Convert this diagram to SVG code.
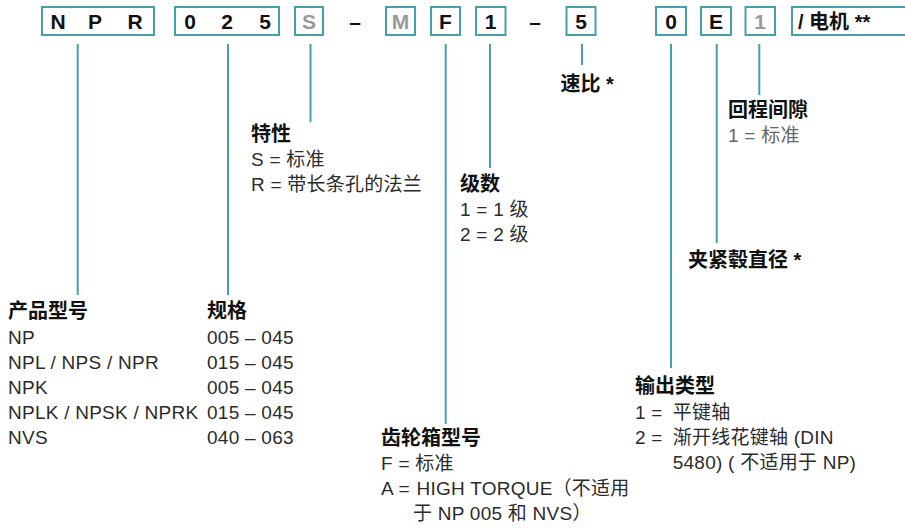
<svg xmlns="http://www.w3.org/2000/svg" width="905" height="528" viewBox="0 0 905 528">
<style>
text{font-family:"Liberation Sans","Noto Sans CJK SC",sans-serif;}
.box{fill:#fff;stroke:#45a0ab;stroke-width:2;}
.bt{font-size:21px;font-weight:bold;fill:#111;text-anchor:middle;}
.gr{fill:#999;}
.h{font-size:20px;font-weight:bold;fill:#111;}
.b{font-size:19px;fill:#2b2b2b;letter-spacing:0.25px;}
.g{fill:#666;}
.ln{stroke:#45a0ab;stroke-width:2;fill:none;}
</style>
<rect width="905" height="528" fill="#fff"/>
<g id="connectors">
<line class="ln" x1="77.7" y1="44" x2="77.7" y2="295"/>
<line class="ln" x1="228" y1="44" x2="228" y2="295"/>
<line class="ln" x1="310.5" y1="44" x2="310.5" y2="122"/>
<line class="ln" x1="445.7" y1="44" x2="445.7" y2="424"/>
<line class="ln" x1="490" y1="44" x2="490" y2="168"/>
<line class="ln" x1="582" y1="44" x2="582" y2="65"/>
<line class="ln" x1="671" y1="44" x2="671" y2="368"/>
<line class="ln" x1="716.7" y1="44" x2="716.7" y2="243"/>
<line class="ln" x1="759.3" y1="44" x2="759.3" y2="95"/>
</g>
<g id="code">
<g id="box-npr"><rect class="box" x="42" y="7" width="112" height="28"/>
<text class="bt" x="58" y="28.8">N</text><text class="bt" x="95" y="28.8">P</text><text class="bt" x="135" y="28.8">R</text></g>
<g id="box-025"><rect class="box" x="175" y="7" width="104" height="28"/>
<text class="bt" x="190" y="28.8">0</text><text class="bt" x="227" y="28.8">2</text><text class="bt" x="265" y="28.8">5</text></g>
<g id="box-s"><rect class="box" x="295" y="7" width="28" height="28"/><text class="bt gr" x="309" y="28.8">S</text></g>
<g id="dash1"><text class="bt" x="355" y="28.8">–</text></g>
<g id="box-m"><rect class="box" x="386" y="7" width="29" height="28"/><text class="bt gr" x="400.5" y="28.8">M</text></g>
<g id="box-f"><rect class="box" x="431" y="7" width="29" height="28"/><text class="bt" x="445.5" y="28.8">F</text></g>
<g id="box-1"><rect class="box" x="476" y="7" width="29.5" height="28"/><text class="bt" x="490.7" y="28.8">1</text></g>
<g id="dash2"><text class="bt" x="535" y="28.8">–</text></g>
<g id="box-5"><rect class="box" x="566.5" y="7" width="29" height="28"/><text class="bt" x="581" y="28.8">5</text></g>
<g id="box-0"><rect class="box" x="656" y="7" width="30" height="28"/><text class="bt" x="671" y="28.8">0</text></g>
<g id="box-e"><rect class="box" x="701" y="7" width="30" height="28"/><text class="bt" x="716" y="28.8">E</text></g>
<g id="box-1b"><rect class="box" x="745.5" y="7" width="29.5" height="28"/><text class="bt gr" x="760" y="28.8">1</text></g>
<g id="box-motor"><rect class="box" x="792" y="7" width="125" height="28"/><text class="h" x="798" y="28.5">/ 电机 **</text></g>
</g>
<g id="product">
<text class="h" x="8" y="318">产品型号</text>
<text class="b" x="8" y="343.5">NP</text>
<text class="b" x="8" y="368.5">NPL / NPS / NPR</text>
<text class="b" x="8" y="393.5">NPK</text>
<text class="b" x="8" y="418.5">NPLK / NPSK / NPRK</text>
<text class="b" x="8" y="443.5">NVS</text>
</g>
<g id="size">
<text class="h" x="207" y="318">规格</text>
<text class="b" x="207" y="343.5">005 – 045</text>
<text class="b" x="207" y="368.5">015 – 045</text>
<text class="b" x="207" y="393.5">005 – 045</text>
<text class="b" x="207" y="418.5">015 – 045</text>
<text class="b" x="207" y="443.5">040 – 063</text>
</g>
<g id="feature">
<text class="h" x="251" y="141">特性</text>
<text class="b" x="251" y="166">S = 标准</text>
<text class="b" x="251" y="191">R = 带长条孔的法兰</text>
</g>
<g id="stages">
<text class="h" x="460" y="191">级数</text>
<text class="b" x="460" y="216">1 = 1 级</text>
<text class="b" x="460" y="240.5">2 = 2 级</text>
</g>
<g id="gearbox">
<text class="h" x="381" y="445">齿轮箱型号</text>
<text class="b" x="381" y="469.5">F = 标准</text>
<text class="b" x="381" y="494.5">A = <tspan x="416.5">HIGH TORQUE（不适用</tspan></text>
<text class="b" x="413" y="519.5">于 NP 005 和 NVS）</text>
</g>
<g id="ratio">
<text class="h" x="560.5" y="91">速比 *</text>
</g>
<g id="backlash">
<text class="h" x="728" y="116.5">回程间隙</text>
<text class="b g" x="728" y="141.5">1 = 标准</text>
</g>
<g id="clamp">
<text class="h" x="688" y="267">夹紧毂直径 *</text>
</g>
<g id="output">
<text class="h" x="635" y="393">输出类型</text>
<text class="b" x="635" y="418.5">1 = <tspan x="672.7">平键轴</tspan></text>
<text class="b" x="635" y="443.5">2 = <tspan x="672.7">渐开线花键轴 (DIN</tspan></text>
<text class="b" x="672.7" y="468.5">5480) ( 不适用于 NP)</text>
</g>
</svg>
